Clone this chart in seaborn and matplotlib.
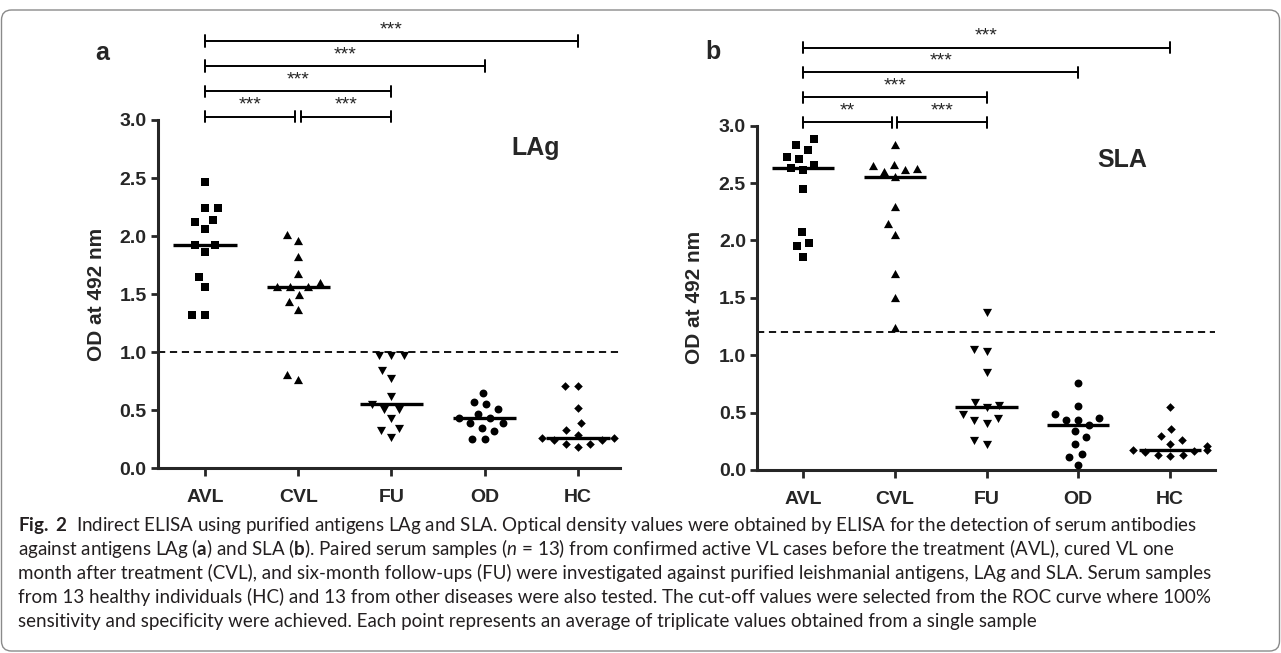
import numpy as np
import pandas as pd
import matplotlib
matplotlib.use("Agg")
import matplotlib.pyplot as plt
import seaborn as sns
from matplotlib import font_manager
from matplotlib.patches import FancyBboxPatch
from matplotlib.path import Path
from matplotlib.transforms import IdentityTransform

# ---------------- data ----------------
groups = ["AVL", "CVL", "FU", "OD", "HC"]

lag_avl = [2.47, 2.24, 2.24, 2.14, 2.12, 2.06, 1.92, 1.92, 1.86, 1.65, 1.56, 1.32, 1.32]
lag_cvl = [2.01, 1.96, 1.82, 1.67, 1.60, 1.56, 1.56, 1.56, 1.49, 1.43, 1.36, 0.80, 0.76]
lag_fu = [0.98, 0.98, 0.98, 0.85, 0.78, 0.62, 0.55, 0.51, 0.51, 0.43, 0.35, 0.33, 0.27]
lag_od = [0.65, 0.57, 0.55, 0.51, 0.47, 0.43, 0.43, 0.39, 0.39, 0.35, 0.32, 0.25, 0.25]
lag_hc = [0.71, 0.71, 0.52, 0.39, 0.33, 0.29, 0.26, 0.26, 0.24, 0.24, 0.21, 0.21, 0.18]

sla_avl = [2.88, 2.83, 2.79, 2.73, 2.71, 2.66, 2.63, 2.61, 2.45, 2.07, 1.98, 1.95, 1.86]
sla_cvl = [2.83, 2.66, 2.65, 2.62, 2.61, 2.60, 2.55, 2.29, 2.14, 2.05, 1.71, 1.50, 1.24]
sla_fu = [1.38, 1.05, 1.04, 0.85, 0.59, 0.57, 0.55, 0.49, 0.45, 0.44, 0.41, 0.26, 0.23]
sla_od = [0.76, 0.56, 0.49, 0.45, 0.44, 0.44, 0.39, 0.34, 0.29, 0.23, 0.14, 0.11, 0.04]
sla_hc = [0.55, 0.36, 0.30, 0.26, 0.23, 0.21, 0.17, 0.17, 0.165, 0.16, 0.13, 0.13, 0.125]

lag_cutoff = 1.0
sla_cutoff = 1.2

# comparisons: (group i, group j, label)
lag_sig = [("AVL", "CVL", "***"), ("CVL", "FU", "***"), ("AVL", "FU", "***"),
           ("AVL", "OD", "***"), ("AVL", "HC", "***")]
sla_sig = [("AVL", "CVL", "**"), ("CVL", "FU", "***"), ("AVL", "FU", "***"),
           ("AVL", "OD", "***"), ("AVL", "HC", "***")]

caption_lines = [
    r"$\mathbf{Fig.\ 2}$  Indirect ELISA using purified antigens LAg and SLA. Optical density values were obtained by ELISA for the detection of serum antibodies",
    r"against antigens LAg ($\mathbf{a}$) and SLA ($\mathbf{b}$). Paired serum samples ($\mathit{n}$ = 13) from confirmed active VL cases before the treatment (AVL), cured VL one",
    "month after treatment (CVL), and six-month follow-ups (FU) were investigated against purified leishmanial antigens, LAg and SLA. Serum samples",
    "from 13 healthy individuals (HC) and 13 from other diseases were also tested. The cut-off values were selected from the ROC curve where 100%",
    "sensitivity and specificity were achieved. Each point represents an average of triplicate values obtained from a single sample",
]

# ---------------- style ----------------
sns.set_theme(style="ticks")
plt.rcParams["font.family"] = ["Liberation Sans", "DejaVu Sans"]

installed = {f.name for f in font_manager.fontManager.ttflist}
cap_font = "Liberation Sans Narrow" if "Liberation Sans Narrow" in installed else "Lato"
plt.rcParams["mathtext.fontset"] = "custom"
plt.rcParams["mathtext.rm"] = cap_font
plt.rcParams["mathtext.bf"] = cap_font + ":bold"
plt.rcParams["mathtext.it"] = cap_font + ":italic"

W, H = 1281, 653
fig = plt.figure(figsize=(W / 100, H / 100), dpi=100)
fig.patch.set_facecolor("white")


def px_axes(left, top, right, bottom):
    return fig.add_axes([left / W, 1 - bottom / H, (right - left) / W, (bottom - top) / H])


# marker glyphs drawn smaller than the swarm footprint (Prism-like spacing)
_frame = Path([(-1, -1), (1, 1)], [Path.MOVETO, Path.MOVETO])


def glyph(verts):
    codes = [Path.MOVETO] + [Path.LINETO] * (len(verts) - 1) + [Path.CLOSEPOLY]
    return Path.make_compound_path(_frame, Path(list(verts) + [verts[0]], codes))


def circle_glyph(r):
    c = Path.unit_circle()
    return Path.make_compound_path(_frame, Path(c.vertices * r, c.codes))


q, t, d = 0.66, 0.76, 0.72
markers = [
    glyph([(-q, -q), (q, -q), (q, q), (-q, q)]),
    glyph([(0, t), (-t, -t * 0.8), (t, -t * 0.8)]),
    glyph([(0, -t), (t, t * 0.8), (-t, t * 0.8)]),
    circle_glyph(0.66),
    glyph([(0, d), (-d, 0), (0, -d), (d, 0)]),
]
swarm_size = 8.6


def panel(ax, values, cutoff, sig, xlim):
    df = pd.DataFrame({"group": np.repeat(groups, [len(v) for v in values]),
                       "od": np.concatenate(values)})
    for g, m in zip(groups, markers):
        sns.swarmplot(data=df[df["group"] == g], x="group", y="od", order=groups,
                      marker=m, size=swarm_size, color="black", linewidth=0,
                      ax=ax, zorder=3)
        ax.collections[-1].set_clip_on(False)
    sns.boxplot(data=df, x="group", y="od", order=groups, width=0.68,
                showfliers=False, whis=0,
                boxprops={"visible": False}, whiskerprops={"visible": False},
                capprops={"visible": False},
                medianprops={"color": "black", "linewidth": 2.4, "visible": True},
                ax=ax, zorder=4)
    ax.axhline(cutoff, color="black", lw=1.3, ls=(0, (4, 2.6)), zorder=2)

    ax.set_xlim(*xlim)
    ax.set_ylim(0, 3.0)
    ticks = np.arange(0, 3.01, 0.5)
    ax.set_yticks(ticks)
    ax.set_yticklabels([f"{v:.1f}" for v in ticks])
    ax.set_xlabel("")
    ax.set_ylabel("OD at 492 nm", fontsize=15, fontweight="bold")
    sns.despine(ax=ax)
    for sp in ("left", "bottom"):
        ax.spines[sp].set_linewidth(2.2)
    ax.tick_params(axis="y", length=5, width=2, labelsize=14, pad=3)
    ax.tick_params(axis="x", length=6, width=2, labelsize=14, pad=9)
    for lbl in ax.get_xticklabels() + ax.get_yticklabels():
        lbl.set_fontweight("bold")

    # significance brackets
    pos = {g: i for i, g in enumerate(groups)}
    levels = []
    for a, b, _ in sig:
        span = pos[b] - pos[a]
        levels.append(0 if span == 1 else span - 1)
    base, step, tk, gap = 3.03, 0.217, 0.05, 0.03
    for (a, b, lab), lv in zip(sig, levels):
        y = base + step * lv
        x0, x1 = pos[a], pos[b]
        same = [(pos[c], pos[e]) for (c, e, _), l2 in zip(sig, levels) if l2 == lv]
        if any(e == x0 for _, e in same):
            x0 += gap
        if any(s == x1 for s, _ in same):
            x1 -= gap
        ax.plot([x0, x1], [y, y], color="black", lw=1.4, clip_on=False)
        ax.plot([x0, x0], [y - tk, y + tk], color="black", lw=1.4, clip_on=False)
        ax.plot([x1, x1], [y - tk, y + tk], color="black", lw=1.4, clip_on=False)
        ax.text((x0 + x1) / 2, y + 0.025, lab, ha="center", va="bottom",
                fontsize=14, clip_on=False)


ax_a = px_axes(157.7, 120, 619.9, 468.3)
ax_b = px_axes(757, 125.7, 1215, 470)

panel(ax_a, [lag_avl, lag_cvl, lag_fu, lag_od, lag_hc], lag_cutoff, lag_sig, (-0.507, 4.45))
panel(ax_b, [sla_avl, sla_cvl, sla_fu, sla_od, sla_hc], sla_cutoff, sla_sig, (-0.501, 4.49))

ax_a.yaxis.set_label_coords(-0.112, 0.5)
ax_b.yaxis.set_label_coords(-0.116, 0.5)

ax_a.text(0.817, 0.92, "LAg", transform=ax_a.transAxes, fontsize=18, fontweight="bold",
          ha="center", va="center")
ax_b.text(0.797, 0.90, "SLA", transform=ax_b.transAxes, fontsize=18, fontweight="bold",
          ha="center", va="center")

fig.text(102 / W, 1 - 53 / H, "a", fontsize=18, fontweight="bold", ha="center", va="center")
fig.text(713 / W, 1 - 52 / H, "b", fontsize=18, fontweight="bold", ha="center", va="center")

# caption
cap_color = "#231f20"
baselines = [531, 555, 579, 603, 627]
texts = []
for line, yb in zip(caption_lines, baselines):
    tx = fig.text(18 / W, 1 - yb / H, line, fontsize=11, family=cap_font,
                  color=cap_color, ha="left", va="baseline")
    texts.append(tx)
fig.canvas.draw()
r = fig.canvas.get_renderer()
w0 = texts[0].get_window_extent(r).width
fs = 11 * (1196 - 18) / w0
for tx in texts:
    tx.set_fontsize(fs)

# outer frame
frame = FancyBboxPatch((1.5, 2), W - 3, H - 12, boxstyle="round,pad=0,rounding_size=10",
                       transform=IdentityTransform(), facecolor="none",
                       edgecolor="#8a8a8a", lw=1.0)
fig.add_artist(frame)

fig.savefig("out.png", dpi=100)
